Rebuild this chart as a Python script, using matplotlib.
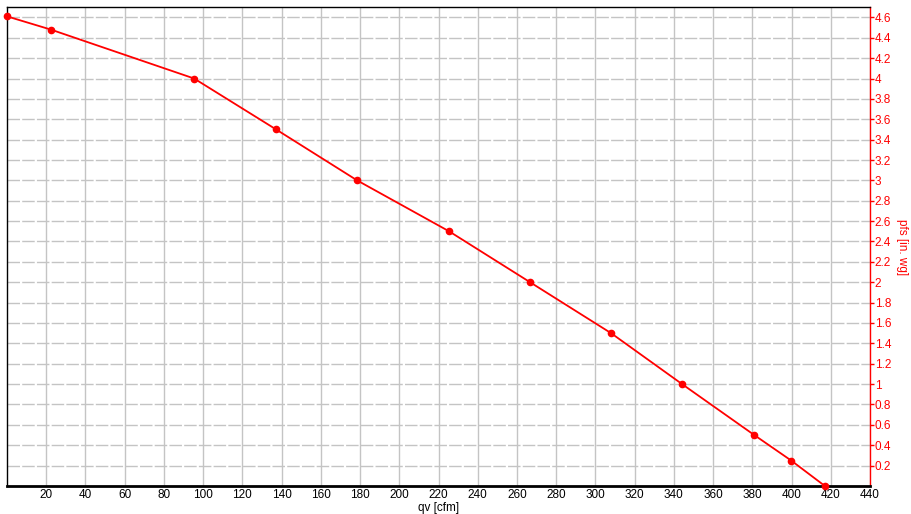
import numpy as np
import matplotlib.pyplot as plt

# fan curve
qv = [0, 22.4, 95.4, 137.2, 178.5, 225.4, 266.7, 308.0, 344.2, 381.0, 399.8, 417.0]
pfs = [4.61, 4.48, 4.0, 3.5, 3.0, 2.5, 2.0, 1.5, 1.0, 0.5, 0.25, 0.0]

x_ticks = np.arange(20, 441, 20)
y_ticks = np.round(np.arange(0.2, 4.61, 0.2), 1)

plt.rcParams['font.family'] = ['Liberation Sans', 'DejaVu Sans']

fig = plt.figure(figsize=(9.11, 5.14), dpi=100)
ax = fig.add_axes([0.0077, 0.0545, 0.9473, 0.9315])

ax.set_xlim(0, 440)
ax.set_ylim(0, 4.7)

ax.set_xticks(x_ticks)
ax.set_xticklabels([f"{v:g}" for v in x_ticks])
ax.set_yticks(y_ticks)
ax.set_yticklabels([f"{v:g}" for v in y_ticks])

ax.yaxis.tick_right()
ax.yaxis.set_label_position("right")

# grid: solid verticals, dashed horizontals
ax.xaxis.grid(True, color="#c4c4c4", linewidth=1.0, linestyle="-")
ax.yaxis.grid(True, color="#c4c4c4", linewidth=1.0, linestyle=(0, (9, 1.6)))
ax.set_axisbelow(True)

ax.plot(qv, pfs, color="red", linewidth=1.3, marker="o", markersize=4.5,
        clip_on=False, zorder=3)

ax.tick_params(axis="x", length=0, labelsize=8.5, colors="black", pad=2)
ax.tick_params(axis="y", length=3, width=1, direction="out", labelsize=8.5,
               colors="red", labelcolor="red", pad=0.5)

for s in ["left", "top"]:
    ax.spines[s].set_color("black")
    ax.spines[s].set_linewidth(1.0)
ax.spines["bottom"].set_color("black")
ax.spines["bottom"].set_linewidth(2.0)
ax.spines["right"].set_color("red")
ax.spines["right"].set_linewidth(1.0)

ax.set_xlabel("qv [cfm]", fontsize=8.5, labelpad=1)
ax.set_ylabel("pfs [in. wg]", fontsize=8.5, color="red", rotation=270,
              labelpad=12)

fig.savefig("out.png", dpi=100)
